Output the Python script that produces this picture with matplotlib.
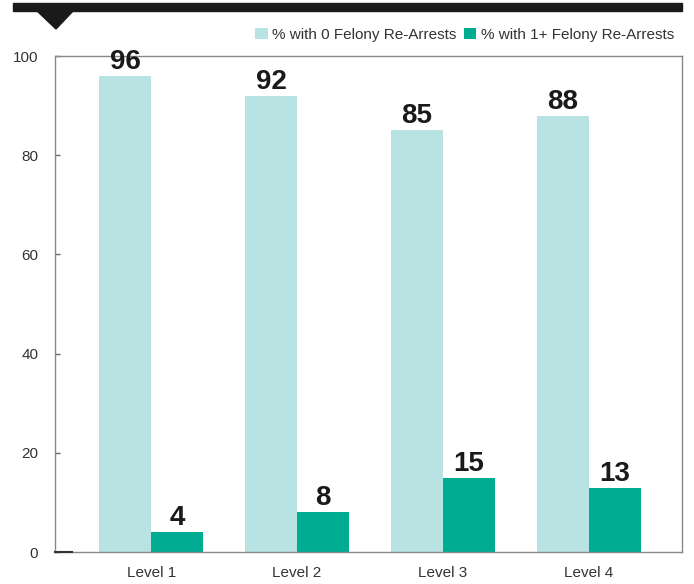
import numpy as np
import matplotlib.pyplot as plt
from matplotlib.patches import Rectangle, Polygon

plt.rcParams['font.family'] = ['Liberation Sans', 'DejaVu Sans']

levels = ['Level 1', 'Level 2', 'Level 3', 'Level 4']
zero_arrests = [96, 92, 85, 88]
one_plus_arrests = [4, 8, 15, 13]
yticks = [0, 20, 40, 60, 80, 100]

light = '#b9e2e3'
dark = '#00ad93'

fig = plt.figure(figsize=(6.94, 5.84), dpi=100)
ax = fig.add_axes([55/694, 32/584, 627/694, 496/584])

x = np.arange(len(levels))
w = 0.356
b1 = ax.bar(x - w/2, zero_arrests, w, color=light, label='% with 0 Felony Re-Arrests')
b2 = ax.bar(x + w/2, one_plus_arrests, w, color=dark, label='% with 1+ Felony Re-Arrests')

for bars in (b1, b2):
    for r in bars:
        ax.text(r.get_x() + r.get_width()/2, r.get_height() + 0.2, str(int(r.get_height())),
                ha='center', va='bottom', fontsize=20, fontweight='bold', color='#1a1a1a')

ax.set_xlim(-0.66, 3.64)
ax.set_ylim(0, 100)
ax.set_yticks(yticks)
ax.set_xticks(x)
ax.set_xticklabels(levels)
ax.tick_params(axis='x', length=0, labelsize=11, colors='#333333', pad=10)
ax.tick_params(axis='y', direction='in', length=3.5, width=1, color='#666666',
               labelsize=11, labelcolor='#333333', pad=12)
for s in ax.spines.values():
    s.set_color('#888888')
    s.set_linewidth(1)
ax.plot([-0.66, -0.54], [0, 0], color='#333333', lw=1.5, clip_on=False, zorder=5)

# header bar and triangle
fig.patches.append(Rectangle((13/694, 1 - 11/584), 669/694, 8/584, transform=fig.transFigure,
                             color='#1a1a1a', zorder=5))
fig.patches.append(Polygon([(36/694, 1 - 10/584), (74/694, 1 - 10/584), (56/694, 1 - 29/584)],
                           closed=True, transform=fig.transFigure, color='#1a1a1a', zorder=5))

fig.legend(handles=[b1, b2], loc='upper right', bbox_to_anchor=(688/694, 1 - 14/584),
           ncol=2, frameon=False, fontsize=11, handlelength=0.8, handleheight=0.8,
           handletextpad=0.3, columnspacing=0.5, labelcolor='#333333')

fig.savefig('out.png', dpi=100)
